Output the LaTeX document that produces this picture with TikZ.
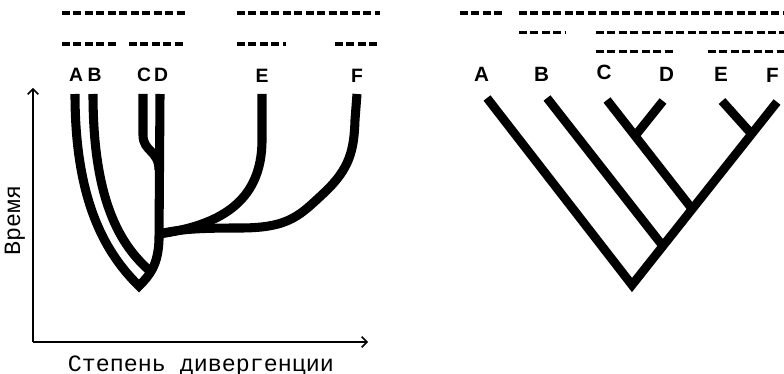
\documentclass[tikz,border=0pt]{standalone}
\usepackage{fontspec}
\setmainfont{Liberation Sans}
\newfontfamily\monofont{Liberation Mono}
\usetikzlibrary{arrows.meta,calc}
\begin{document}
\begin{tikzpicture}[x=0.75pt,y=-0.75pt,
  branch/.style={line width=6.8pt, line cap=butt, line join=miter},
  limb/.style={line width=6.6pt, line cap=butt, line join=miter},
  rank/.style={line width=2.9pt, dash pattern=on 6pt off 2.6pt},
  axis/.style={line width=1.1pt, -{Straight Barb[length=4pt,width=8pt]}},
  taxL/.style={font=\bfseries\fontsize{14.5}{16}\selectfont, anchor=base, inner sep=0pt},
  taxR/.style={font=\bfseries\fontsize{15.5}{17}\selectfont, anchor=base, inner sep=0pt},
  caption/.style={font=\monofont\fontsize{17.5}{19}\selectfont, anchor=base, inner sep=0pt}]
\useasboundingbox (0,0) rectangle (784,374);

% ---- taxonomic rank bars, left diagram ----
\draw[rank] (62,13) -- (185,13);
\draw[rank] (62,44) -- (116,44);
\draw[rank] (129,44) -- (183,44);
\draw[rank] (237,13) -- (380,13);
\draw[rank] (237,44) -- (286,44);
\draw[rank] (335,44) -- (378,44);

% ---- taxonomic rank bars, right diagram ----
\draw[rank] (460,13) -- (503,13);
\draw[rank] (519,13) -- (786,13);
\draw[rank] (519,32.5) -- (566,32.5);
\draw[rank] (596,32.5) -- (786,32.5);
\draw[rank] (596,51.5) -- (673,51.5);
\draw[rank] (708,51.5) -- (786,51.5);

% ---- labels ----
\node[taxL] (lA) at (76,82) {A};
\node[taxL] (lB) at (94.5,82) {B};
\node[taxL] (lC) at (144,82) {C};
\node[taxL] (lD) at (161,82) {D};
\node[taxL] (lE) at (262,82.5) {E};
\node[taxL] (lF) at (357,82.5) {F};

\node[taxR] (rA) at (481.5,82) {A};
\node[taxR] (rB) at (541.5,82) {B};
\node[taxR] (rC) at (604,80) {C};
\node[taxR] (rD) at (666.5,82) {D};
\node[taxR] (rE) at (721,82) {E};
\node[taxR] (rF) at (772.5,83) {F};

% ---- axes ----
\coordinate (O) at (33,342);
\coordinate (ytop) at (33,88);
\coordinate (xend) at (368,342);
\draw[axis] (O) -- (ytop);
\draw[axis] (O) -- (xend);
\node[caption, rotate=90] (ylab) at (20,220) {Время};
\node[caption] (xlab) at (201,371) {Степень дивергенции};

% ---- lineages over time ----
\draw[branch] (75,94) .. controls (75,195) and (102,250) .. (139,286)
   .. controls (150,275) and (158,265) .. (159,240) -- (160,94);
\draw[branch] (93,94) .. controls (93,200) and (120,245) .. (150,271);
\draw[branch] (143,94) -- (143,135) .. controls (143,152) and (159,150) .. (159,170);
\draw[branch] (159,234) .. controls (215,226) and (262,205) .. (262,140) -- (262,94);
\draw[branch] (159,234) .. controls (180,229) and (200,228) .. (240,228)
   .. controls (290,228) and (300,215) .. (325,192)
   .. controls (350,168) and (354,150) .. (355,120) -- (357,94);

% ---- cladogram ----
\coordinate (R) at (632,285);
\coordinate (tA) at (487,98);
\coordinate (tB) at (547,98);
\coordinate (tC) at (607,100);
\coordinate (tD) at (663,101);
\coordinate (tE) at (722,101);
\coordinate (tF) at (777,102);
\coordinate (jB) at ($(R)!0.213!(tF)$);
\coordinate (jC) at ($(R)!0.415!(tF)$);
\coordinate (jEF) at ($(R)!0.825!(tF)$);
\coordinate (jCD) at (635,136);
\draw[limb] (tA) -- (R) -- (tF);
\draw[limb] (tB) -- (jB);
\draw[limb] (tC) -- (jC);
\draw[limb] (tD) -- (jCD);
\draw[limb] (tE) -- (jEF);
\end{tikzpicture}
\end{document}
